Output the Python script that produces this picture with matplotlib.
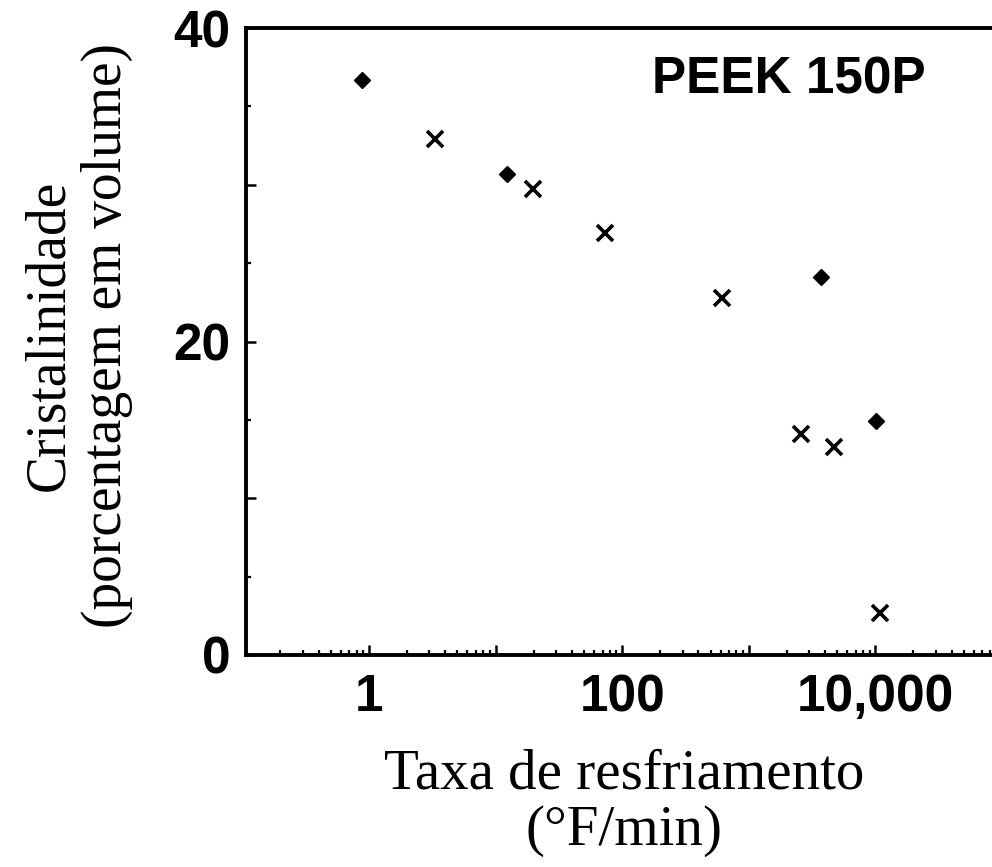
import matplotlib
matplotlib.use("Agg")
import matplotlib.pyplot as plt
from matplotlib.ticker import LogLocator, FuncFormatter, MultipleLocator, NullFormatter

# crystallinity of PEEK 150P vs cooling rate
diamond_rate = [0.88, 12.3, 3700, 10200]
diamond_cryst = [36.7, 30.7, 24.1, 14.9]

cross_rate = [3.3, 19.7, 73, 620, 2570, 4700, 10800]
cross_cryst = [32.9, 29.7, 26.9, 22.8, 14.1, 13.3, 2.7]

x_labels = {1: "1", 100: "100", 10000: "10,000"}
y_labels = {0: "0", 20: "20", 40: "40"}

tick_font = "Liberation Sans"
label_font = "Liberation Serif"

fig = plt.figure(figsize=(9.92, 8.67), dpi=100)
W, H = 992, 867
# axes box in pixels: left spine 246, bottom 655, top 28, right edge just off the canvas
ax = fig.add_axes([246 / W, 1 - 655 / H, (1002 - 246) / W, (655 - 28) / H])

ax.plot(diamond_rate, diamond_cryst, linestyle="none", marker="D",
        markersize=8.5, color="black", clip_on=False)
ax.plot(cross_rate, cross_cryst, linestyle="none", marker="x",
        markersize=11, markeredgewidth=2.6, color="black", clip_on=False)

ax.set_xscale("log")
ax.set_xlim(0.107, 1e5)
ax.set_ylim(0, 40)

ax.xaxis.set_major_locator(LogLocator(base=10, numticks=20))
ax.xaxis.set_minor_locator(LogLocator(base=10, subs=range(2, 10), numticks=20))
ax.xaxis.set_major_formatter(FuncFormatter(lambda v, p: x_labels.get(int(round(v)), "") if v >= 1 else ""))
ax.xaxis.set_minor_formatter(NullFormatter())

ax.yaxis.set_major_locator(MultipleLocator(10))
ax.yaxis.set_minor_locator(MultipleLocator(5))
ax.yaxis.set_major_formatter(FuncFormatter(lambda v, p: y_labels.get(int(round(v)), "")))

for side in ["left", "bottom", "top", "right"]:
    ax.spines[side].set_linewidth(2.8)

ax.tick_params(which="major", direction="in", length=7.5, width=1.8, top=False, right=False)
ax.tick_params(which="minor", direction="in", length=3.5, width=1.6, top=False, right=False)
ax.tick_params(axis="y", which="major", pad=11)
ax.tick_params(axis="x", which="major", pad=13)

for lbl in ax.get_xticklabels() + ax.get_yticklabels():
    lbl.set_fontfamily(tick_font)
    lbl.set_fontweight("bold")
    lbl.set_fontsize(37)

ax.text(652 / W, 1 - 80 / H, "PEEK 150P", transform=fig.transFigure,
        ha="left", va="center", fontsize=37, fontweight="bold", family=tick_font)

fig.text(624 / W, 1 - 803 / H, "Taxa de resfriamento\n(°F/min)", ha="center", va="center",
         fontsize=41, family=label_font, linespacing=1.1, multialignment="center")
fig.text(78 / W, 1 - 335 / H, "Cristalinidade\n(porcentagem em volume)", ha="center", va="center",
         rotation=90, fontsize=40, family=label_font, linespacing=1.15, multialignment="center")

fig.savefig("out.png", dpi=100)
